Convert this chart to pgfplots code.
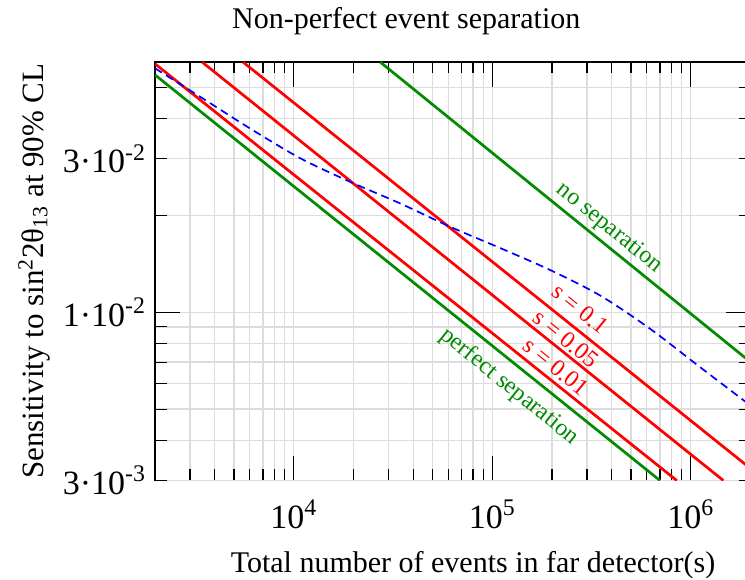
\documentclass[border=0pt]{standalone}
\usepackage{fontspec}
\setmainfont{Liberation Serif}
\usepackage{pgfplots}
\pgfplotsset{compat=1.18}
\definecolor{grgreen}{RGB}{0,139,0}
\definecolor{gridgray}{RGB}{220,220,220}
\newcommand\mainfont{\fontsize{15}{18}\selectfont}
\newcommand\ylabfont{\fontsize{15.5}{18}\selectfont}
\newcommand\tickfont{\fontsize{17}{20}\selectfont}
\newcommand\lblfont{\fontsize{12}{14}\selectfont}

\begin{document}
\begin{tikzpicture}
% page = 745x579 px at 2 px per pt, axis box lower left at (0,0)
% the right edge of the frame is cut off, as in the original
\useasboundingbox (-77.5pt,-49.25pt) rectangle (295pt,240.25pt);
\begin{axis}[
    at={(0,0)}, anchor=south west,
    xmode=log, ymode=log,
    scale only axis,
    width=297.75pt, height=209.4pt,
    xmin=2000, xmax=2e6,
    ymin=0.003, ymax=0.06,
    xtick={1e4,1e5,1e6},
    xticklabels={10\textsuperscript{4},10\textsuperscript{5},10\textsuperscript{6}},
    minor xtick={2000,3000,4000,5000,6000,7000,8000,9000,
        20000,30000,40000,50000,60000,70000,80000,90000,
        200000,300000,400000,500000,600000,700000,800000,900000},
    ytick={0.01},
    yticklabels={1·10\textsuperscript{-2}},
    minor ytick={0.004,0.005,0.006,0.007,0.008,0.009,0.02,0.04,0.05},
    extra y ticks={0.003,0.03},
    extra y tick labels={3·10\textsuperscript{-3},3·10\textsuperscript{-2}},
    extra tick style={major tick length=5.8pt, grid=major},
    grid=both,
    grid style={gridgray, line width=0.65pt},
    major tick length=12.5pt, minor tick length=5.8pt,
    tick style={black, line width=0.55pt},
    axis line style={line width=0.85pt},
    tick label style={font=\tickfont},
    xticklabel style={anchor=base, yshift=-24pt},
    yticklabel style={xshift=-1pt},
    title={Non-perfect event separation},
    title style={at={(0.422,1.079)}, anchor=base, yshift=-6pt, font=\mainfont},
    xlabel={Total number of events in far detector(s)},
    xlabel style={at={(0.534,-0.2185)}, anchor=base, font=\mainfont},
    ylabel={Sensitivity to sin\textsuperscript{2}2θ\textsubscript{13} at 90\% CL},
    ylabel style={at={(-0.188,0.5)}, anchor=base, font=\ylabfont},
]

% perfect separation
\addplot[grgreen, line width=1.35pt] coordinates {
    (2000, 0.0546) (7.0e5, 0.003)
};

% s = 0.01
\addplot[red, line width=1.35pt] coordinates {
    (2000, 0.0591) (8.5e5, 0.003)
};

% s = 0.05
\addplot[red, line width=1.35pt] coordinates {
    (3460, 0.0598) (1.46e6, 0.003)
};

% s = 0.1
\addplot[red, line width=1.35pt] coordinates {
    (5560, 0.0598) (2e6, 0.00327)
};

% no separation
\addplot[grgreen, line width=1.35pt] coordinates {
    (27300, 0.0598) (2e6, 0.0070)
};

% blue dashed
\addplot[blue, line width=0.85pt, dash pattern=on 4pt off 2.5pt, smooth] coordinates {
    (2000, 0.05724)
    (3392, 0.04661)
    (6055, 0.03715)
    (10806, 0.03006)
    (19290, 0.02539)
    (34440, 0.02176)
    (61470, 0.01842)
    (109700, 0.01582)
    (195800, 0.01352)
    (349500, 0.01127)
    (624200, 0.00888)
    (1114000, 0.00675)
    (2e6, 0.00513)
};

\node[grgreen, font=\lblfont, rotate=-39] at (axis cs:3.88e5,0.01825) {no separation};
\node[red, font=\lblfont, rotate=-39] at (axis cs:2.773e5,0.01024) {s = 0.1};
\node[red, font=\lblfont, rotate=-39] at (axis cs:2.358e5,0.008266) {s = 0.05};
\node[red, font=\lblfont, rotate=-39] at (axis cs:2.101e5,0.006767) {s = 0.01};
\node[grgreen, font=\lblfont, rotate=-39] at (axis cs:1.218e5,0.00587) {perfect separation};
\end{axis}
\end{tikzpicture}
\end{document}
